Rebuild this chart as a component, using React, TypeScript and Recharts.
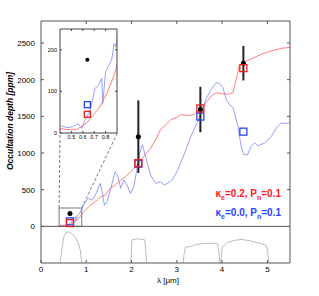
import React from 'react'
import {
  ComposedChart,
  Line,
  Scatter,
  XAxis,
  YAxis,
  ReferenceLine,
  ReferenceArea,
  ErrorBar
} from 'recharts'

// model with kappa_e = 0.2 (red)
const redLam = [0.40, 0.46, 0.55, 0.63, 0.69, 0.75, 0.81, 0.87, 0.90, 0.94, 1.09, 1.24, 1.31, 1.42, 1.53, 1.64, 1.76, 1.87, 1.98, 2.09, 2.16, 2.27, 2.35, 2.42, 2.53, 2.64, 2.76, 2.87, 2.98, 3.09, 3.24, 3.38, 3.50, 3.64, 3.76, 3.87, 3.98, 4.13, 4.24, 4.31, 4.38, 4.46, 4.64, 4.87, 5.09, 5.31, 5.50]
const redDepth = [11, 8, 9, 23, 43, 63, 95, 135, 163, 200, 288, 357, 400, 426, 518, 563, 630, 677, 746, 815, 863, 952, 1010, 1060, 1181, 1319, 1387, 1456, 1479, 1525, 1511, 1525, 1593, 1680, 1776, 1823, 1809, 1800, 1823, 2000, 2188, 2235, 2280, 2349, 2394, 2427, 2441]

// model with kappa_e = 0.0 (blue)
const blueLam = [0.41, 0.46, 0.51, 0.56, 0.59, 0.62, 0.665, 0.707, 0.736, 0.766, 0.775, 0.80, 0.853, 0.874, 0.89, 0.905, 0.98, 1.05, 1.13, 1.20, 1.31, 1.35, 1.40, 1.46, 1.57, 1.64, 1.70, 1.76, 1.83, 1.90, 1.98, 2.05, 2.13, 2.18, 2.24, 2.27, 2.35, 2.42, 2.53, 2.64, 2.72, 2.79, 2.90, 3.02, 3.13, 3.20, 3.31, 3.53, 3.64, 3.76, 3.87, 3.94, 4.02, 4.09, 4.16, 4.24, 4.35, 4.42, 4.48, 4.56, 4.61, 4.64, 4.72, 4.79, 4.94, 5.09, 5.20, 5.31, 5.42, 5.50]
const blueDepth = [17, 13, 15, 22, 11, 31, 55, 107, 115, 131, 71, 147, 175, 215, 207, 240, 334, 380, 357, 426, 586, 471, 288, 334, 586, 746, 677, 518, 632, 563, 449, 540, 815, 999, 1113, 1044, 861, 700, 586, 608, 563, 586, 632, 769, 930, 1044, 1227, 1525, 1731, 1868, 1960, 1950, 1891, 1731, 1662, 1620, 1364, 1090, 975, 975, 1044, 1090, 1136, 1099, 1136, 1227, 1342, 1410, 1401, 1419]

// observed occultation depths
const obsLam = [0.64, 2.15, 3.52, 4.47]
const obsDepth = [176, 1222, 1593, 2225]
const obsErr = [0, 495, 310, 235]

// band-integrated models
const redBand = [45, 861, 1607, 2157]
const blueBand = [68, 855, 1497, 1291]

// filter transmission curves (drawn in the lower panel, ppm offset)
const kepLam = [0.42, 0.44, 0.50, 0.55, 0.60, 0.65, 0.72, 0.78, 0.83, 0.87, 0.89, 0.90]
const kepResp = [-500, -420, -147, -90, -75, -85, -124, -170, -238, -330, -450, -500]
const ksLam = [1.98, 1.99, 2.01, 2.13, 2.29, 2.31, 2.33]
const ksResp = [-500, -420, -183, -170, -183, -300, -500]
const irac1Lam = [3.14, 3.16, 3.19, 3.31, 3.42, 3.53, 3.65, 3.76, 3.90, 3.93, 3.95]
const irac1Resp = [-500, -380, -284, -275, -250, -238, -235, -229, -238, -350, -500]
const irac2Lam = [3.97, 3.99, 4.00, 4.05, 4.13, 4.25, 4.42, 4.60, 4.72, 4.85, 4.98, 5.01, 5.03]
const irac2Resp = [-500, -380, -284, -260, -215, -195, -178, -195, -215, -235, -261, -350, -500]

const xTicks = [0, 1, 2, 3, 4, 5]
const yTicks = [0, 500, 1000, 1500, 2000, 2500]
const insetXTicks = [0.5, 0.6, 0.7, 0.8]
const insetYTicks = [0, 100, 200]

const toPts = (xs: number[], ys: number[]) => xs.map((x, i) => ({ x, y: ys[i] }))

const redModel = toPts(redLam, redDepth)
const blueModel = toPts(blueLam, blueDepth)
const obs = obsLam.map((x, i) => ({ x, y: obsDepth[i], err: obsErr[i] }))
const redPts = toPts(obsLam, redBand)
const bluePts = toPts(obsLam, blueBand)
const filters = [toPts(kepLam, kepResp), toPts(ksLam, ksResp), toPts(irac1Lam, irac1Resp), toPts(irac2Lam, irac2Resp)]

const FONT = '"Liberation Sans", Arial, sans-serif'
const FRAME = '#555'
const RED_LINE = '#ff5a5a'
const BLUE_LINE = '#7a86ff'

const square = (color: string, s: number) => (p: any) => (
  <rect x={p.cx - s / 2} y={p.cy - s / 2} width={s} height={s} fill="none" stroke={color} strokeWidth={1.3} />
)
const dot = (r: number) => (p: any) => <circle cx={p.cx} cy={p.cy} r={r} fill="#000" />

const noLabel = () => ''

function MainChart() {
  return (
    <ComposedChart width={319} height={296} margin={{ top: 21, right: 29, bottom: 13, left: 5 }}>
      <XAxis type="number" dataKey="x" domain={[0, 5.5]} ticks={xTicks} interval={0} allowDataOverflow
        stroke={FRAME} tickSize={-3} tickMargin={6} tick={{ fontSize: 8, fill: '#000', fontFamily: FONT }} height={20} />
      <XAxis xAxisId="top" orientation="top" type="number" dataKey="x" domain={[0, 5.5]} ticks={[1, 2, 3, 4, 5]}
        interval={0} allowDataOverflow mirror stroke={FRAME} tickSize={3} tickFormatter={noLabel} height={1} />
      <YAxis type="number" dataKey="y" domain={[-500, 2800]} ticks={yTicks} interval={0} allowDataOverflow
        stroke={FRAME} tickSize={-3} tickMargin={9} tick={{ fontSize: 8, fill: '#000', fontFamily: FONT }} width={36} />
      <YAxis yAxisId="right" orientation="right" type="number" domain={[-500, 2800]} ticks={yTicks.slice(1)}
        interval={0} allowDataOverflow mirror stroke={FRAME} tickSize={3} tickFormatter={noLabel} width={1} />

      <ReferenceLine y={0} stroke={FRAME} strokeWidth={1} />
      <ReferenceArea x1={0.4} x2={0.9} y1={0} y2={250} fill="none" stroke={FRAME} strokeWidth={0.8} />
      <ReferenceLine segment={[{ x: 0.4, y: 250 }, { x: 0.42, y: 1277 }]} stroke="#777" strokeDasharray="3 2" />
      <ReferenceLine segment={[{ x: 0.9, y: 250 }, { x: 1.69, y: 1277 }]} stroke="#777" strokeDasharray="3 2" />

      {filters.map((f, i) => (
        <Line key={i} data={f} dataKey="y" stroke="#aaa" strokeWidth={0.8} dot={false} isAnimationActive={false} />
      ))}
      <Line data={blueModel} dataKey="y" stroke={BLUE_LINE} strokeWidth={0.8} dot={false} isAnimationActive={false} />
      <Line data={redModel} dataKey="y" stroke={RED_LINE} strokeWidth={0.8} dot={false} isAnimationActive={false} />

      <Scatter data={obs} dataKey="y" shape={dot(2.5)} isAnimationActive={false}>
        <ErrorBar dataKey="err" direction="y" width={0} stroke="#222" strokeWidth={2} isAnimationActive={false} />
      </Scatter>
      <Scatter data={bluePts} dataKey="y" shape={square('#2a44ee', 7)} isAnimationActive={false} />
      <Scatter data={redPts} dataKey="y" shape={square('#e81c1c', 7)} isAnimationActive={false} />
    </ComposedChart>
  )
}

function InsetChart() {
  return (
    <ComposedChart width={319} height={296} margin={{ top: 29, right: 202, bottom: 153, left: 48 }}>
      <XAxis type="number" dataKey="x" domain={[0.4, 0.9]} ticks={insetXTicks} interval={0} allowDataOverflow
        stroke="#444" tickSize={-2} tickMargin={4} tick={{ fontSize: 5.5, fill: '#000', fontFamily: FONT }} height={10} />
      <XAxis xAxisId="top" orientation="top" type="number" dataKey="x" domain={[0.4, 0.9]} ticks={insetXTicks}
        interval={0} allowDataOverflow mirror stroke="#444" tickSize={2} tickFormatter={noLabel} height={1} />
      <YAxis type="number" dataKey="y" domain={[0, 250]} ticks={insetYTicks} interval={0} allowDataOverflow
        stroke="#444" tickSize={-2} tickMargin={5} tick={{ fontSize: 5.5, fill: '#000', fontFamily: FONT }} width={12} />
      <YAxis yAxisId="right" orientation="right" type="number" domain={[0, 250]} ticks={[100, 200]}
        interval={0} allowDataOverflow mirror stroke="#444" tickSize={2} tickFormatter={noLabel} width={1} />

      <Line data={blueModel} dataKey="y" stroke={BLUE_LINE} strokeWidth={0.8} dot={false} isAnimationActive={false} />
      <Line data={redModel} dataKey="y" stroke={RED_LINE} strokeWidth={0.8} dot={false} isAnimationActive={false} />
      <Scatter data={obs.slice(0, 1)} dataKey="y" shape={dot(2)} isAnimationActive={false} />
      <Scatter data={bluePts.slice(0, 1)} dataKey="y" shape={square('#2a44ee', 6)} isAnimationActive={false} />
      <Scatter data={redPts.slice(0, 1)} dataKey="y" shape={square('#e81c1c', 6)} isAnimationActive={false} />
    </ComposedChart>
  )
}

export default function App() {
  const abs: React.CSSProperties = { position: 'absolute', left: 0, top: 0 }
  return (
    <div style={{ position: 'absolute', left: 0, top: 0, width: 319, height: 296, background: '#fff', fontFamily: FONT }}>
      <div style={abs}><MainChart /></div>
      <div style={{ position: 'absolute', left: 60, top: 29, width: 57, height: 104, background: '#fff' }} />
      <div style={abs}><InsetChart /></div>

      <div style={{ position: 'absolute', left: 10, top: 121, transform: 'translate(-50%, -50%) rotate(-90deg)',
        whiteSpace: 'nowrap', fontSize: 8.5, fontStyle: 'italic', fontWeight: 'bold', lineHeight: 1 }}>
        Occultation depth [ppm]
      </div>
      <div style={{ position: 'absolute', left: 168, top: 277, transform: 'translateX(-50%)',
        whiteSpace: 'nowrap', fontSize: 8, lineHeight: 1 }}>
        λ [μm]
      </div>

      <div style={{ position: 'absolute', right: 38, top: 186, textAlign: 'right', fontSize: 10,
        fontWeight: 'bold', lineHeight: '15px', whiteSpace: 'nowrap' }}>
        <div style={{ color: '#ff1a1a' }}>κ<sub style={{ fontSize: 7 }}>e</sub>=0.2, P<sub style={{ fontSize: 7 }}>n</sub>=0.1</div>
        <div style={{ color: '#2a44ff' }}>κ<sub style={{ fontSize: 7 }}>e</sub>=0.0, P<sub style={{ fontSize: 7 }}>n</sub>=0.1</div>
      </div>
    </div>
  )
}
